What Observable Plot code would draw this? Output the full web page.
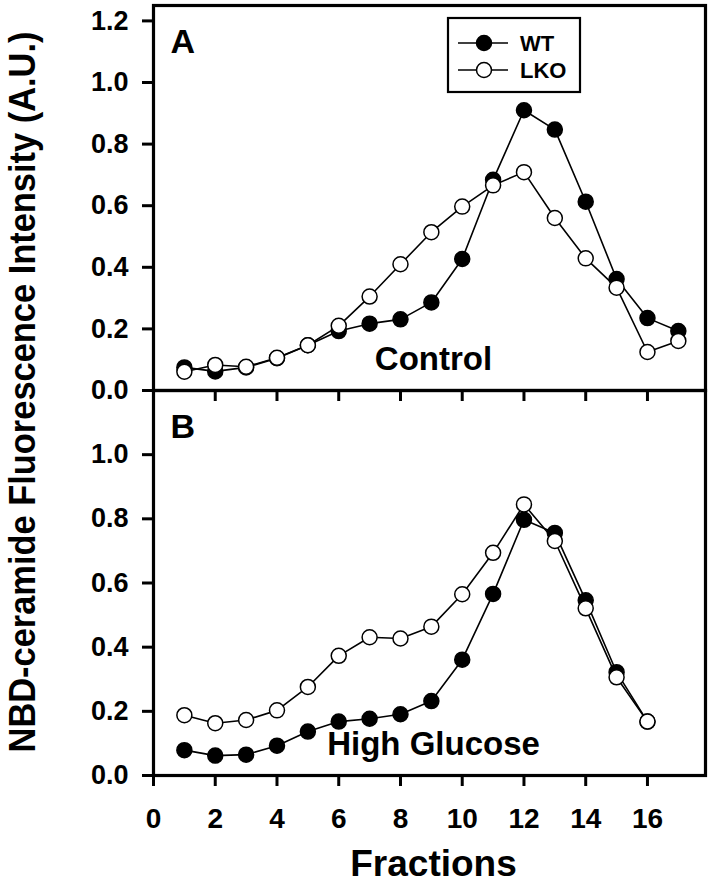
<!DOCTYPE html>
<html><head><meta charset="utf-8">
<script src="https://cdn.jsdelivr.net/npm/d3@7"></script>
<script src="https://cdn.jsdelivr.net/npm/@observablehq/plot@0.6"></script>
<style>
body{margin:0;background:#fff;}
#chart{position:relative;width:712px;height:891px;font-family:"Liberation Sans",Arial,sans-serif;font-weight:bold;color:#000;}
#chart svg{position:absolute;left:0;}
#ylabel{position:absolute;left:22px;top:392px;transform:translate(-50%,-50%) rotate(-90deg) scaleX(0.93);white-space:nowrap;font-size:37px;line-height:37px;}
</style></head><body><div id="chart"><div id="ylabel"></div></div>
<script>
// ---- data ----
const fractionsControl = [1,2,3,4,5,6,7,8,9,10,11,12,13,14,15,16,17];
const wtControl  = [0.075,0.062,0.075,0.105,0.147,0.193,0.217,0.231,0.286,0.427,0.684,0.910,0.847,0.613,0.362,0.235,0.193];
const lkoControl = [0.061,0.083,0.077,0.106,0.147,0.210,0.305,0.410,0.514,0.597,0.666,0.709,0.560,0.429,0.334,0.125,0.161];
const fractionsGlucose = [1,2,3,4,5,6,7,8,9,10,11,12,13,14,15,16];
const wtGlucose  = [0.079,0.062,0.065,0.093,0.137,0.168,0.177,0.191,0.232,0.361,0.566,0.797,0.756,0.546,0.322,0.168];
const lkoGlucose = [0.188,0.163,0.173,0.203,0.276,0.373,0.431,0.427,0.464,0.565,0.694,0.845,0.731,0.521,0.306,0.168];
const xTicks = [0,2,4,6,8,10,12,14,16];
const yTicksA = [0,0.2,0.4,0.6,0.8,1.0,1.2];
const yTicksB = [0,0.2,0.4,0.6,0.8,1.0];
const panelLabels = ["A","B"];
const conditions = ["Control","High Glucose"];
const seriesNames = ["WT","LKO"];
const xTitle = "Fractions";
const yTitle = "NBD-ceramide Fluorescence Intensity (A.U.)";

const FONT = "Liberation Sans, Arial, sans-serif";
const chart = document.getElementById("chart");
document.getElementById("ylabel").textContent = yTitle;

function panel(fr, wt, lko, yDomain, yTicks, label, condition, opts) {
  const rows = fr.map((f,i)=>({fraction:f, wt:wt[i], lko:lko[i]}));
  return Plot.plot({
    width: 712,
    height: opts.height,
    marginLeft: 153, marginRight: 7, marginTop: 5, marginBottom: opts.marginBottom,
    x: {domain: [0, 17.88], label: null},
    y: {domain: yDomain, label: null},
    style: {background: "transparent", overflow: "visible", fontFamily: FONT, fontWeight: "bold", fontSize: "27px", color: "black"},
    marks: [
      Plot.frame({stroke: "black", strokeWidth: 3.2}),
      Plot.axisY(yTicks, {tickSize: 11, tickPadding: 14, tickFormat: d3.format(".1f"), strokeWidth: 3, fontSize: 27, fontWeight: "bold"}),
      Plot.axisX(xTicks, {tickSize: 11, tickPadding: 22, strokeWidth: 3, fontSize: 28, fontWeight: "bold",
        tickFormat: opts.xLabels ? (d => String(d)) : (() => "")}),
      Plot.line(rows, {x: "fraction", y: "wt", stroke: "black", strokeWidth: 1.6}),
      Plot.dot(rows, {x: "fraction", y: "wt", r: 7.5, fill: "black", stroke: "black", strokeWidth: 1.5}),
      Plot.line(rows, {x: "fraction", y: "lko", stroke: "black", strokeWidth: 1.6}),
      Plot.dot(rows, {x: "fraction", y: "lko", r: 7.5, fill: "white", stroke: "black", strokeWidth: 1.5}),
      Plot.text([label], {frameAnchor: "top-left", dx: 17, dy: 23, textAnchor: "start", lineAnchor: "top", fontSize: 34, fontWeight: "bold"}),
      Plot.text([condition], {frameAnchor: "bottom", dx: 4, dy: -21, fontSize: 33, fontWeight: "bold"}),
      ...(opts.xLabels ? [Plot.text([xTitle], {frameAnchor: "bottom", dx: 4, dy: 100, fontSize: 37, fontWeight: "bold"})] : [])
    ]
  });
}

const plotB = panel(fractionsGlucose, wtGlucose, lkoGlucose, [0, 1.2], yTicksB, panelLabels[1], conditions[1], {height: 506, marginBottom: 116, xLabels: true});
plotB.style.top = "385px";
chart.appendChild(plotB);

const plotA = panel(fractionsControl, wtControl, lkoControl, [0, 1.25], yTicksA, panelLabels[0], conditions[0], {height: 402, marginBottom: 12, xLabels: false});
plotA.style.top = "0px";
chart.appendChild(plotA);

// legend (inside panel A)
const leg = d3.select(chart).append("svg")
  .attr("width", 712).attr("height", 110)
  .style("top", "0px").style("overflow", "visible");
leg.append("rect").attr("x", 448).attr("y", 18).attr("width", 132).attr("height", 74)
  .attr("fill", "white").attr("stroke", "black").attr("stroke-width", 2.2);
seriesNames.forEach((name, i) => {
  const y = 43 + i * 27;
  leg.append("line").attr("x1", 458).attr("x2", 508).attr("y1", y).attr("y2", y)
    .attr("stroke", "black").attr("stroke-width", 1.6);
  leg.append("circle").attr("cx", 484).attr("cy", y).attr("r", 7.5)
    .attr("fill", i === 0 ? "black" : "white").attr("stroke", "black").attr("stroke-width", 1.5);
  leg.append("text").attr("x", 520).attr("y", y).attr("dy", "0.36em")
    .attr("font-family", FONT).attr("font-weight", "bold").attr("font-size", 22).text(name);
});
</script></body></html>
